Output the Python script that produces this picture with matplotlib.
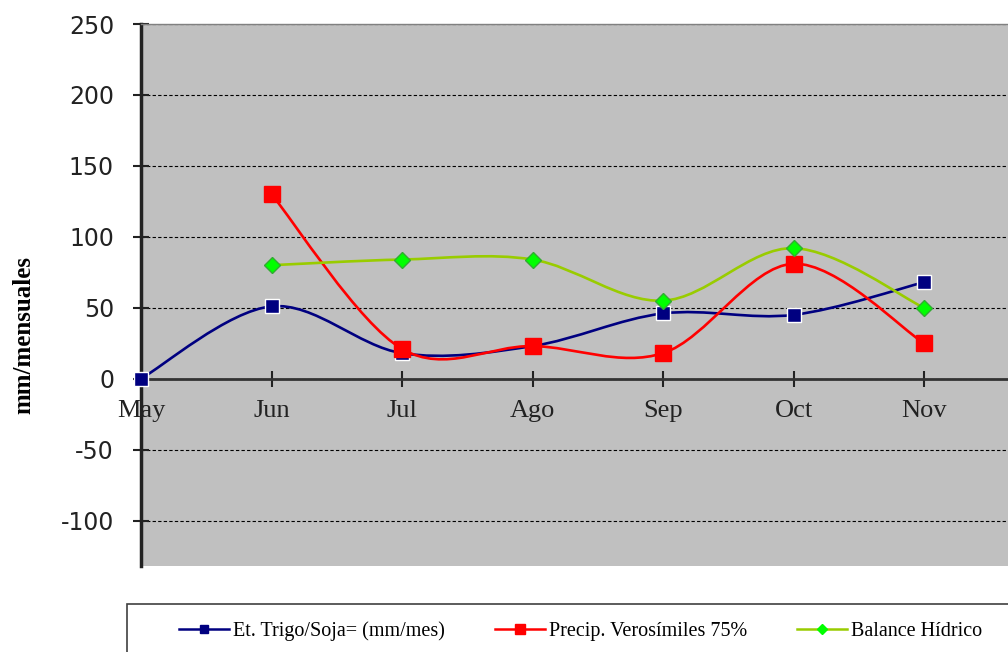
import numpy as np
import matplotlib.pyplot as plt
from matplotlib.path import Path
from matplotlib.patches import PathPatch, Rectangle
from matplotlib.lines import Line2D

# datos (mm/mes)
meses = ['May', 'Jun', 'Jul', 'Ago', 'Sep', 'Oct', 'Nov']
et_trigo = [0, 51, 18, 23, 46, 45, 68]
precip = [np.nan, 130, 21, 23, 18, 81, 25]
balance = [np.nan, 80, 84, 84, 55, 92, 50]

y_ticks = [-100, -50, 0, 50, 100, 150, 200, 250]

serif = 'Liberation Serif'
plt.rcParams['axes.unicode_minus'] = False


def smooth_path(xs, ys):
    # curva suave tipo Excel: bezier cubico por tramos (Catmull-Rom)
    pts = np.array([(x, y) for x, y in zip(xs, ys) if not np.isnan(y)], dtype=float)
    verts = [pts[0]]
    codes = [Path.MOVETO]
    n = len(pts)
    for i in range(n - 1):
        p0 = pts[i - 1] if i > 0 else pts[i]
        p1 = pts[i]
        p2 = pts[i + 1]
        p3 = pts[i + 2] if i + 2 < n else pts[i + 1]
        c1 = p1 + (p2 - p0) / 6.0
        c2 = p2 - (p3 - p1) / 6.0
        verts += [c1, c2, p2]
        codes += [Path.CURVE4] * 3
    return Path(verts, codes)


fig = plt.figure(figsize=(10.08, 6.52), dpi=100)
W, H = 1008.0, 652.0
x0, x_step = 141.0, 130.5
ax = fig.add_axes([x0 / W, 1 - 566 / H, 7 * x_step / W, (566 - 24) / H])
ax.set_facecolor('#c0c0c0')

x = np.arange(len(meses))

series = [
    (et_trigo, '#000080', 's', '#000080', 'white', 10, 'Et. Trigo/Soja= (mm/mes)'),
    (precip, '#ff0000', 's', '#ff0000', '#ff0000', 11.5, 'Precip. Verosímiles 75%'),
    (balance, '#99cc00', 'D', '#00ff00', '#33aa33', 8.5, 'Balance Hídrico'),
]

handles = []
for vals, lc, mk, mfc, mec, ms, lab in series:
    ax.add_patch(PathPatch(smooth_path(x, vals), fill=False, edgecolor=lc, lw=1.9,
                           zorder=3, capstyle='round'))
    ax.plot(x, vals, ls='none', marker=mk, ms=ms, mfc=mfc, mec=mec, mew=1.0, zorder=4,
            clip_on=False)
    handles.append(Line2D([], [], color=lc, lw=1.8, marker=mk, ms=ms * 0.6,
                          mfc=mfc, mec=mfc, label=lab))

ax.set_xlim(0, 7)
ax.set_ylim(-132, 250)
ax.set_yticks(y_ticks)
ax.set_xticks(x)
ax.set_xticklabels(meses)

ax.grid(axis='y', color='black', ls=(0, (3, 2)), lw=0.8)
ax.set_axisbelow(True)

ax.spines['left'].set_linewidth(2.5)
ax.spines['left'].set_color('#222222')
ax.spines['bottom'].set_position(('data', 0))
ax.spines['bottom'].set_linewidth(2.0)
ax.spines['bottom'].set_color('#333333')
ax.spines['bottom'].set_zorder(2.5)
ax.spines['top'].set_color('#808080')
ax.spines['top'].set_linewidth(1.0)
ax.spines['right'].set_visible(False)

ax.tick_params(axis='y', direction='inout', length=12, width=1.5, color='#222222',
               labelsize=17, pad=13.4)
ax.tick_params(axis='x', direction='inout', length=11, width=1.5, color='#222222',
               labelsize=19, pad=9.5)
for t in ax.get_yticklabels():
    t.set_fontfamily('DejaVu Sans')
    t.set_color('#222222')
for t in ax.get_xticklabels():
    t.set_fontfamily(serif)
    t.set_color('#222222')

fig.text(24 / W, 1 - 335 / H, 'mm/mensuales', rotation=90, ha='center', va='center',
         fontsize=18, fontweight='bold', fontfamily=serif)

# recuadro de la leyenda (sale por la derecha y por abajo)
fig.patches.append(Rectangle((127 / W, -0.05), 1.0, 0.05 + 1 - 604 / H,
                             transform=fig.transFigure, fill=False,
                             edgecolor='#404040', lw=1.2))
fig.legend(handles=handles, loc='center left', bbox_to_anchor=(179 / W, 1 - 631 / H),
           ncol=3, frameon=False, prop={'family': serif, 'size': 14.5},
           handlelength=2.5, handletextpad=0.2, columnspacing=2.45,
           borderpad=0, borderaxespad=0)

fig.savefig('out.png', dpi=100)
